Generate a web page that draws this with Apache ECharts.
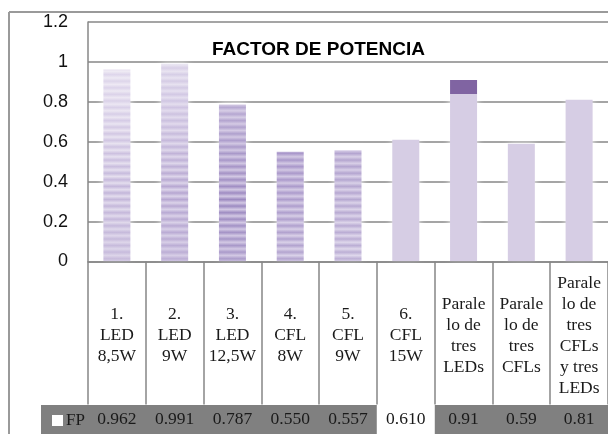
<!DOCTYPE html>
<html>
<head>
<meta charset="utf-8">
<script src="https://cdn.jsdelivr.net/npm/echarts@6/dist/echarts.min.js"></script>
<style>
  html, body { margin: 0; padding: 0; background: #fff; }
  #chart { width: 608px; height: 434px; }
</style>
</head>
<body>
<div id="chart"></div>
<script>
// Lamp types (one table column each)
const categories = [
  '1.\nLED\n8,5W', '2.\nLED\n9W', '3.\nLED\n12,5W', '4.\nCFL\n8W', '5.\nCFL\n9W',
  '6.\nCFL\n15W', 'Parale\nlo de\ntres\nLEDs', 'Parale\nlo de\ntres\nCFLs',
  'Parale\nlo de\ntres\nCFLs\ny tres\nLEDs'
];
// Power factor per lamp and the decimals shown in the table row
const fpValues = [0.962, 0.991, 0.787, 0.550, 0.557, 0.610, 0.91, 0.59, 0.81];
const fpDecimals = [3, 3, 3, 3, 3, 3, 2, 2, 2];
const yTicks = { min: 0, max: 1.2, step: 0.2 };

const serif = 'Liberation Serif';
const sans = 'Liberation Sans';
const lineCol = '#878787';

const GRID = { left: 88, right: -2, top: 22, bottom: 172 };
const PLOT_TOP = GRID.top, PLOT_BOTTOM = 434 - GRID.bottom;

// colour helpers
function hex(c) { return [1, 3, 5].map(i => parseInt(c.substr(i, 2), 16)); }
function mix(a, b, t) {
  const A = hex(a), B = hex(b);
  return 'rgb(' + A.map((v, i) => Math.round(v + (B[i] - v) * t)).join(',') + ')';
}
// piecewise ramp: [[pos, colour], ...] sampled at t in [0,1]
function ramp(pts, t) {
  for (let i = 1; i < pts.length; i++) {
    if (t <= pts[i][0]) {
      const p = pts[i - 1], q = pts[i];
      return [p[1], q[1], (t - p[0]) / (q[0] - p[0] || 1)];
    }
  }
  const l = pts[pts.length - 1];
  return [l[1], l[1], 0];
}
function rampColor(pts, t) { const r = ramp(pts, t); return mix(r[0], r[1], r[2]); }

// Soft horizontal stripes across the plot height; dark/light ramps run top to bottom
function stripes(darkRamp, lightRamp) {
  const period = 6.6;
  const n = Math.ceil((PLOT_BOTTOM - PLOT_TOP) / (period / 2));
  const stops = [];
  for (let k = 0; k <= n; k++) {
    const t = Math.min(1, k / n);
    stops.push({ offset: t, color: rampColor(k % 2 ? lightRamp : darkRamp, t) });
  }
  return { type: 'linear', x: 0, y: PLOT_TOP, x2: 0, y2: PLOT_BOTTOM,
    colorStops: stops, global: true };
}

const flat = '#d6cde4';
const barStyles = [
  { color: stripes([[0, '#e6e0ef'], [0.35, '#d9d0e8'], [0.7, '#c3b6da'], [1, '#c8bcdc']],
                   [[0, '#f3f0f7'], [0.4, '#ebe6f2'], [1, '#dcd4e9']]) },
  { color: stripes([[0, '#e3dced'], [0.35, '#cfc5e2'], [0.7, '#b6a6d1'], [1, '#bdafd6']],
                   [[0, '#f1eef6'], [0.4, '#e2dbed'], [1, '#d6cde6']]) },
  { color: stripes([[0, '#d0c6e2'], [0.4, '#b4a5d0'], [0.75, '#9b88c0'], [1, '#ad9ecc']],
                   [[0, '#e5dfee'], [0.5, '#d2c8e3'], [1, '#d3c9e4']]) },
  { color: stripes([[0, '#b5a6d1'], [0.6, '#a997ca'], [1, '#b4a5d0']],
                   [[0, '#ddd5ea'], [0.6, '#d2c8e3'], [1, '#dbd3e9']]) },
  { color: stripes([[0, '#c2b5d9'], [0.6, '#b3a4cf'], [1, '#bdb0d6']],
                   [[0, '#e2dbed'], [0.6, '#d8cfe7'], [1, '#e0d9ec']]) },
  { color: flat },
  { color: { type: 'linear', x: 0, y: 0, x2: 0, y2: 1, colorStops: [
      { offset: 0, color: '#8064a2' }, { offset: 0.078, color: '#8064a2' },
      { offset: 0.079, color: flat }, { offset: 1, color: flat }] } },
  { color: flat },
  { color: flat }
];

const chart = echarts.init(document.getElementById('chart'), null, { renderer: 'canvas' });

chart.setOption({
  animation: false,
  backgroundColor: '#fff',
  title: {
    text: 'FACTOR DE POTENCIA',
    left: 207, top: 35,
    textStyle: { fontFamily: sans, fontWeight: 'bold', fontSize: 19, color: '#000' }
  },
  legend: {
    data: [{ name: 'FP', icon: 'rect', itemStyle: { color: '#fff' } }],
    left: 47, top: 407, itemWidth: 11, itemHeight: 11, selectedMode: false,
    textStyle: { fontFamily: serif, fontSize: 17, color: '#1a1a1a', padding: [0, 0, 0, -2] },
    z: 20
  },
  grid: Object.assign({ containLabel: false }, GRID),
  xAxis: [
    {
      type: 'category', data: categories, z: 10,
      axisLine: { lineStyle: { color: lineCol, width: 1.5 } },
      axisTick: { show: true, interval: 0, length: 143, lineStyle: { color: lineCol, width: 1.5 } },
      axisLabel: { interval: 0, margin: 74, verticalAlign: 'middle', lineHeight: 21,
        fontFamily: serif, fontSize: 17.5, color: '#1a1a1a' }
    },
    {
      type: 'category', data: categories, position: 'bottom', z: 10,
      axisLine: { show: false }, axisTick: { show: false }, splitLine: { show: false },
      axisLabel: {
        interval: 0, margin: 158, verticalAlign: 'middle',
        fontFamily: serif, fontSize: 17.5, color: '#1a1a1a',
        formatter: (v, i) => {
          const s = fpValues[i].toFixed(fpDecimals[i]);
          return i === 5 ? '{w|' + s + '}' : s;
        },
        rich: {
          w: { backgroundColor: '#fff', width: 58, height: 29, lineHeight: 29, align: 'center',
            fontFamily: serif, fontSize: 17.5, color: '#1a1a1a' }
        }
      }
    }
  ],
  yAxis: {
    type: 'value', min: yTicks.min, max: yTicks.max, interval: yTicks.step,
    axisLine: { show: true, lineStyle: { color: lineCol, width: 1.5 } },
    axisTick: { show: false },
    splitLine: { lineStyle: { color: lineCol, width: 1.5 } },
    axisLabel: { margin: 20, fontFamily: sans, fontSize: 18, color: '#111' }
  },
  series: [{
    name: 'FP', type: 'bar', barWidth: 27, z: 3,
    itemStyle: { shadowColor: 'rgba(255,255,255,1)', shadowBlur: 7 },
    data: fpValues.map((v, i) => ({ value: v, itemStyle: barStyles[i] }))
  }],
  graphic: { elements: [
    { type: 'rect', z: -1, shape: { x: 41, y: 405, width: 567, height: 29 },
      style: { fill: '#808080' } },
    { type: 'line', z: -1, shape: { x1: 9, y1: 12, x2: 9, y2: 434 },
      style: { stroke: '#9a9a9a', lineWidth: 2 } },
    { type: 'line', z: -1, shape: { x1: 9, y1: 12, x2: 608, y2: 12 },
      style: { stroke: '#9a9a9a', lineWidth: 2 } }
  ] }
});
</script>
</body>
</html>
